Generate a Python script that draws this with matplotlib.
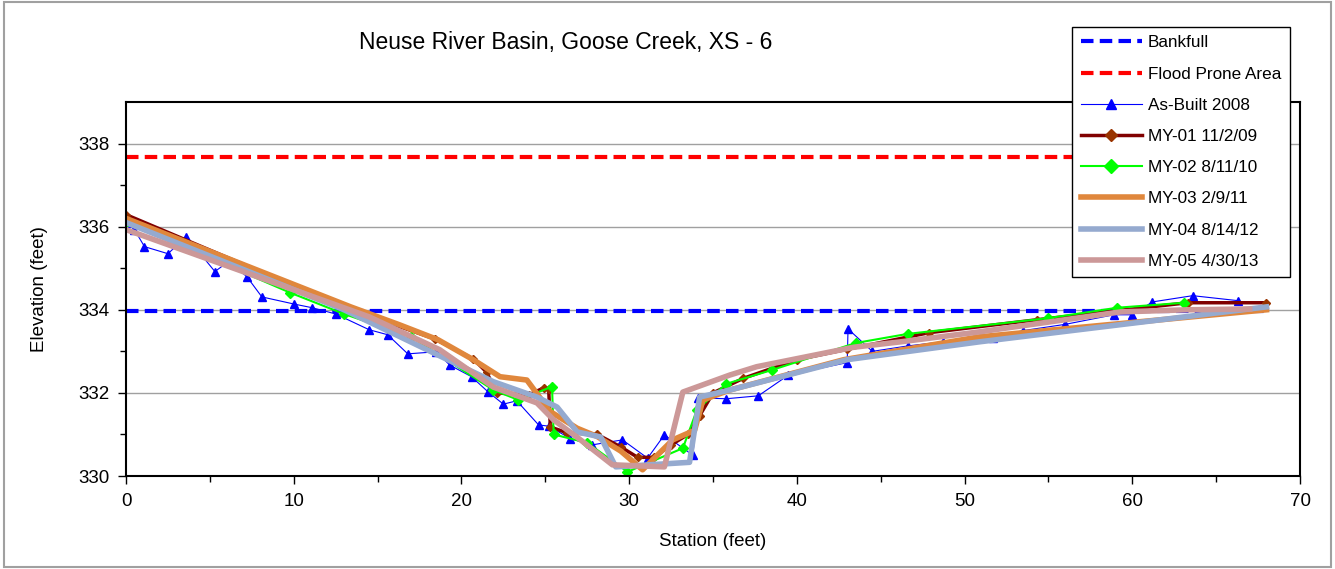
import matplotlib
matplotlib.use("Agg")
import matplotlib.pyplot as plt
from matplotlib.patches import Rectangle

plt.rcParams['font.family'] = ['Liberation Sans', 'DejaVu Sans']

# reference lines
bank_x = [0, 68]
bank_y = [333.97, 333.97]
flood_x = [0, 68]
flood_y = [337.67, 337.67]

# surveys
asbuilt_x = [0, 0.5, 1.1, 2.5, 3.6, 5.3, 6.1, 7.2, 8.1, 10.0,
             11.1, 12.5, 14.5, 15.6, 16.8, 18.5, 19.3, 20.6, 21.6, 22.5,
             23.3, 24.6, 25.2, 26.5, 27.8, 29.6, 31.1, 32.1, 33.8, 34.1,
             35.8, 37.7, 39.5, 43.0, 43.05, 44.5, 46.6, 48.7, 51.7, 53.5,
             56.0, 58.9, 60.0, 61.2, 63.6, 66.3]
asbuilt_y = [336.1, 335.93, 335.52, 335.35, 335.76, 334.92, 335.16, 334.80, 334.31, 334.14,
             334.05, 333.9, 333.52, 333.40, 332.94, 332.99, 332.67, 332.39, 332.02, 331.73,
             331.81, 331.23, 331.2, 330.9, 330.75, 330.87, 330.43, 330.99, 330.5, 331.88,
             331.86, 331.93, 332.43, 332.73, 333.54, 333.0, 333.13, 333.23, 333.33, 333.5,
             333.65, 333.88, 333.88, 334.19, 334.34, 334.22]

my01_x = [0, 13.0, 18.4, 20.7, 21.5, 22.1, 24.0, 24.9, 25.2, 25.3, 26.3, 28.1, 29.5,
          30.5, 31.5, 32.5, 33.5, 34.2, 35.0, 36.8, 40.0, 43.0, 47.9, 54.3, 63.3, 68.0]
my01_y = [336.29, 334.07, 333.3, 332.82, 332.5, 332.0, 331.95, 332.12, 332.1, 331.18, 331.04,
          331.0, 330.7, 330.45, 330.45, 330.75, 331.0, 331.45, 332.0, 332.35, 332.8, 333.05,
          333.45, 333.76, 334.17, 334.17]

my02_x = [0, 9.8, 13.0, 17.0, 21.9, 23.4, 25.4, 25.5, 27.5, 29.9,
          33.2, 34.05, 35.8, 38.5, 43.5, 46.6, 55.0, 59.1, 63.1]
my02_y = [336.12, 334.41, 333.9, 333.35, 332.07, 331.83, 332.15, 331.0, 330.8, 330.1,
          330.67, 331.6, 332.22, 332.55, 333.2, 333.42, 333.8, 334.05, 334.17]

my03_x = [0, 13.4, 16.3, 18.6, 20.7, 22.3, 23.9, 25.3, 26.9, 28.1,
          29.5, 30.8, 32.6, 33.9, 34.4, 36.0, 42.8, 50.9, 68.0]
my03_y = [336.2, 334.07, 333.64, 333.28, 332.8, 332.39, 332.31, 331.55, 331.15, 330.95,
          330.6, 330.15, 330.87, 331.1, 331.83, 332.07, 332.8, 333.35, 334.0]

my04_x = [0, 13.0, 21.9, 24.5, 25.7, 26.9, 28.3, 29.2, 33.6, 34.2, 36.0, 43.0, 50.9, 68.0]
my04_y = [336.1, 334.0, 332.27, 331.9, 331.66, 331.06, 330.94, 330.22, 330.33, 331.9,
          332.07, 332.8, 333.23, 334.07]

my05_x = [0, 14.5, 18.7, 21.9, 24.5, 25.5, 27.1, 29.0, 32.1, 33.2,
          36.0, 37.6, 43.4, 46.2, 50.9, 59.3, 63.3, 67.0]
my05_y = [335.93, 333.83, 333.04, 332.14, 331.76, 331.35, 330.87, 330.27, 330.22, 332.02,
          332.43, 332.63, 333.1, 333.23, 333.47, 333.95, 334.0, 334.02]

fig = plt.figure(figsize=(13.35, 5.69), dpi=100)
ax = fig.add_axes([0.0944, 0.1634, 0.8794, 0.6573])

ax.plot(bank_x, bank_y, color='#0000FF', lw=3, ls=(0, (3, 1.5)), label='Bankfull')
ax.plot(flood_x, flood_y, color='#FF0000', lw=3, ls=(0, (3, 1.5)), label='Flood Prone Area')
ax.plot(asbuilt_x, asbuilt_y, color='#0000FF', lw=0.8, marker='^', ms=6,
        label='As-Built 2008')
ax.plot(my01_x, my01_y, color='#800000', lw=2.5, marker='D', ms=4.5,
        mfc='#993300', mec='#993300', label='MY-01 11/2/09')
ax.plot(my02_x, my02_y, color='#00FF00', lw=1.5, marker='D', ms=5.5,
        label='MY-02 8/11/10')
ax.plot(my03_x, my03_y, color='#E0873C', lw=4, label='MY-03 2/9/11')
ax.plot(my04_x, my04_y, color='#95AACF', lw=4, label='MY-04 8/14/12')
ax.plot(my05_x, my05_y, color='#CC9898', lw=4, label='MY-05 4/30/13')

ax.set_xlim(0, 70)
ax.set_ylim(330, 339)
ax.set_xticks(range(0, 71, 10))
ax.set_xticks(range(0, 71, 5), minor=True)
ax.set_yticks([330, 332, 334, 336, 338])
ax.set_yticks([331, 333, 335, 337], minor=True)
ax.yaxis.grid(True, which='major', color='#A0A0A0', lw=1)
ax.set_axisbelow(True)
ax.tick_params(which='both', direction='out', labelsize=13.5, width=1)
ax.tick_params(which='major', length=6, pad=6)
ax.tick_params(which='minor', length=4)
for s in ax.spines.values():
    s.set_linewidth(1.5)

ax.set_xlabel('Station (feet)', fontsize=13.5, labelpad=17)
ax.set_ylabel('Elevation (feet)', fontsize=13.5, labelpad=22)
fig.text(0.424, 0.926, 'Neuse River Basin, Goose Creek, XS - 6', fontsize=16.5,
         ha='center', va='center')

leg = fig.legend(loc='upper left', bbox_to_anchor=(0.803, 0.953), fontsize=12.3,
                 handlelength=3.6, handletextpad=0.35, labelspacing=0.95,
                 borderpad=0.5, borderaxespad=0, fancybox=False, framealpha=1,
                 edgecolor='black', markerscale=1.3)
leg.get_frame().set_linewidth(1)

fig.patches.append(Rectangle((0.003, 0.003), 0.994, 0.994, transform=fig.transFigure,
                             fill=False, edgecolor='#A0A0A0', lw=1.5))

fig.savefig('out.png', dpi=100)
